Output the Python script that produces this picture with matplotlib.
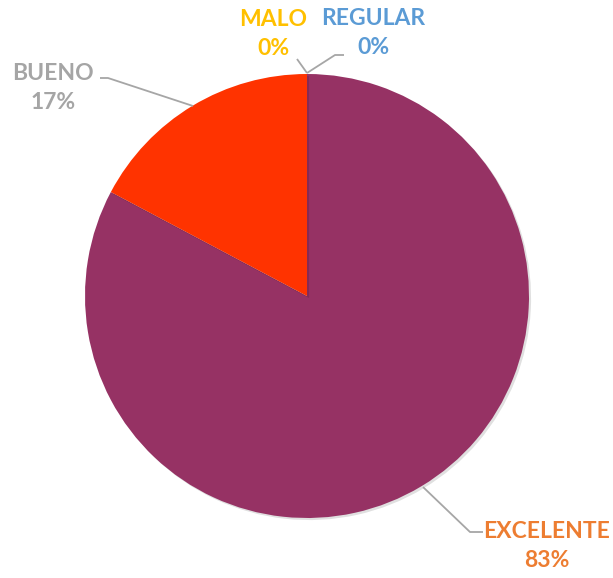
import matplotlib
matplotlib.use("Agg")
import matplotlib.pyplot as plt
import matplotlib.patheffects as pe

categories = ["REGULAR", "EXCELENTE", "BUENO", "MALO"]
values = [0, 24, 5, 0]
pct_labels = ["0%", "83%", "17%", "0%"]
slice_colors = ["#5B9BD5", "#963264", "#FF3300", "#FFC000"]
label_colors = ["#5B9BD5", "#ED7D31", "#A5A5A5", "#FFC000"]

W, H = 613, 578
fig = plt.figure(figsize=(W / 100, H / 100), dpi=100)
cx, cy, R = 307, 296, 222
ax = fig.add_axes([(cx - R) / W, (H - cy - R) / H, 2 * R / W, 2 * R / H])

wedges, _ = ax.pie(values, colors=slice_colors, startangle=90, counterclock=False,
                   radius=1, wedgeprops=dict(linewidth=0))
for w in wedges:
    w.set_path_effects([pe.SimplePatchShadow(offset=(1.5, -1.5), alpha=0.12, shadow_rgbFace="black"),
                        pe.Normal()])
ax.set_xlim(-1, 1)
ax.set_ylim(-1, 1)
ax.set_aspect("equal")
ax.axis("off")

def d(px, py):
    return ((px - cx) / R, (cy - py) / R)

# label text centres and leader lines (pixel coords in reference)
text_pos = {
    "REGULAR": (373, 33),
    "EXCELENTE": (547, 546),
    "BUENO": (53, 88),
    "MALO": (273, 34),
}
leaders = {
    "REGULAR": [(307, 73), (335, 55), (344, 55)],
    "EXCELENTE": [(423, 487), (470, 532), (483, 532)],
    "BUENO": [(193, 106), (108, 78), (100, 78)],
    "MALO": [(307, 73), (297, 59)],
}

for cat, pct, col in zip(categories, pct_labels, label_colors):
    pts = [d(*p) for p in leaders[cat]]
    ax.plot([p[0] for p in pts], [p[1] for p in pts], color="#A6A6A6", lw=1.3,
            clip_on=False, solid_capstyle="butt")
    tx, ty = d(*text_pos[cat])
    ax.text(tx, ty, f"{cat}\n{pct}", ha="center", va="center", color=col,
            fontsize=16.5, fontweight="bold", family="Lato", linespacing=1.45,
            clip_on=False)

fig.savefig("out.png", dpi=100)
